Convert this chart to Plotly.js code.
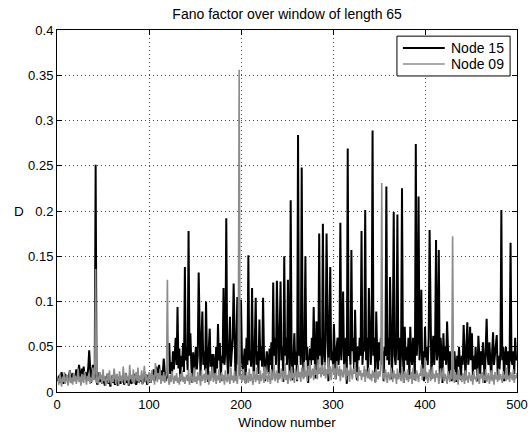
<!DOCTYPE html>
<html>
<head>
<meta charset="utf-8">
<script src="https://cdn.plot.ly/plotly-3.0.1.min.js"></script>
<style>html,body{margin:0;padding:0;background:#fff;}#chart{width:532px;height:432px;}</style>
</head>
<body>
<div id="chart"></div>
<script>
const chartTitle = "Fano factor over window of length 65";
const xLabel = "Window number";
const yLabel = "D";
const seriesNames = ["Node 15", "Node 09"];
const seriesColors = ["#000000", "#8c8c8c"];
const seriesWidths = [2, 1.6];
const xTicks = [0, 100, 200, 300, 400, 500];
const yTicks = [0, 0.05, 0.1, 0.15, 0.2, 0.25, 0.3, 0.35, 0.4];

const node15 = [
.012,.018,.010,.015,.022,.014,.009,.016,.020,.013,
.017,.011,.019,.024,.015,.010,.021,.016,.012,.018,
.025,.014,.020,.030,.017,.012,.026,.019,.028,.015,
.022,.013,.018,.027,.046,.016,.010,.020,.030,.014,
.019,.251,.012,.008,.016,.022,.011,.018,.009,.015,
.013,.007,.017,.011,.020,.009,.014,.006,.012,.018,
.010,.015,.008,.013,.019,.007,.012,.016,.009,.014,
.011,.017,.008,.013,.021,.010,.015,.007,.018,.012,
.009,.016,.011,.020,.014,.008,.013,.019,.010,.015,
.012,.018,.009,.014,.022,.011,.016,.008,.019,.013,
.017,.010,.021,.014,.025,.012,.019,.028,.016,.023,
.030,.016,.024,.013,.020,.037,.018,.012,.022,.015,
.028,.054,.020,.033,.018,.045,.025,.038,.060,.030,
.094,.026,.048,.012,.040,.028,.054,.022,.138,.035,
.050,.024,.178,.040,.065,.030,.010,.044,.018,.036,
.050,.025,.040,.132,.033,.014,.055,.089,.030,.045,
.024,.100,.038,.011,.048,.070,.028,.042,.018,.042,
.030,.015,.050,.026,.075,.035,.054,.012,.040,.032,
.115,.030,.045,.192,.038,.016,.050,.083,.028,.040,
.060,.120,.035,.013,.050,.105,.030,.040,.018,.102,
.040,.025,.035,.048,.010,.060,.030,.151,.035,.045,
.028,.115,.040,.015,.055,.104,.030,.045,.020,.080,
.035,.050,.028,.104,.040,.012,.030,.045,.037,.020,
.048,.030,.055,.014,.121,.040,.060,.030,.123,.045,
.018,.060,.122,.035,.050,.011,.150,.040,.060,.030,
.124,.045,.020,.212,.040,.013,.050,.065,.030,.045,
.012,.284,.040,.060,.030,.248,.045,.016,.060,.150,
.035,.050,.010,.040,.048,.030,.060,.035,.094,.040,
.015,.078,.045,.030,.175,.040,.060,.020,.186,.045,
.030,.055,.175,.040,.012,.060,.138,.035,.045,.030,
.075,.040,.014,.050,.060,.030,.045,.187,.035,.060,
.111,.030,.045,.060,.009,.269,.040,.050,.030,.157,
.045,.060,.020,.091,.040,.013,.050,.035,.060,.040,
.178,.030,.050,.045,.201,.035,.060,.016,.115,.045,
.030,.050,.289,.040,.060,.011,.089,.045,.025,.055,
.035,.060,.030,.045,.012,.050,.040,.227,.035,.060,
.030,.127,.045,.014,.060,.199,.040,.030,.055,.196,
.035,.060,.018,.045,.225,.040,.010,.072,.035,.050,
.030,.060,.015,.072,.040,.030,.060,.045,.013,.274,
.040,.060,.216,.035,.050,.113,.020,.045,.012,.072,
.035,.050,.030,.060,.179,.040,.014,.045,.062,.030,
.050,.168,.035,.045,.157,.018,.060,.040,.010,.065,
.035,.050,.030,.078,.040,.015,.045,.030,.012,.035,
.025,.045,.030,.011,.040,.028,.050,.030,.013,.040,
.030,.074,.035,.016,.050,.077,.030,.040,.072,.035,
.065,.018,.040,.025,.050,.035,.012,.062,.040,.020,
.045,.030,.055,.035,.010,.050,.081,.040,.030,.055,
.035,.014,.045,.066,.030,.040,.050,.063,.018,.040,
.025,.045,.201,.035,.050,.012,.040,.050,.030,.045,
.015,.040,.165,.035,.030,.045,.020,.060,.035,.040
];

const node09 = [
.015,.008,.020,.012,.006,.017,.011,.022,.009,.014,
.019,.007,.013,.024,.010,.016,.008,.021,.012,.018,
.009,.015,.026,.011,.017,.007,.020,.013,.010,.023,
.014,.008,.018,.012,.021,.009,.016,.011,.027,.013,
.020,.136,.010,.017,.008,.022,.014,.019,.009,.025,
.012,.018,.007,.015,.021,.010,.024,.013,.008,.019,
.011,.026,.014,.009,.020,.016,.007,.023,.012,.018,
.010,.028,.015,.009,.021,.013,.017,.008,.030,.014,
.019,.011,.025,.009,.016,.022,.012,.027,.010,.018,
.013,.024,.008,.017,.029,.011,.020,.014,.009,.022,
.016,.010,.024,.013,.019,.008,.032,.015,.011,.021,
.014,.026,.009,.018,.012,.022,.010,.016,.020,.124,
.013,.008,.019,.011,.023,.015,.009,.018,.012,.021,
.010,.016,.008,.020,.013,.024,.011,.017,.009,.015,
.019,.012,.025,.008,.016,.021,.010,.014,.027,.011,
.017,.009,.022,.013,.018,.007,.024,.012,.016,.020,
.010,.026,.014,.019,.008,.023,.012,.017,.028,.011,
.015,.021,.009,.018,.013,.025,.010,.016,.022,.012,
.019,.008,.024,.014,.011,.020,.016,.009,.027,.013,
.018,.010,.023,.012,.017,.009,.021,.356,.014,.019,
.011,.025,.013,.018,.009,.022,.015,.010,.026,.012,
.020,.014,.008,.023,.016,.011,.027,.013,.019,.009,
.024,.012,.017,.021,.010,.028,.014,.018,.011,.022,
.015,.009,.025,.013,.019,.030,.012,.016,.024,.010,
.021,.014,.018,.026,.011,.023,.015,.032,.013,.019,
.009,.024,.017,.012,.028,.015,.021,.010,.026,.018,
.013,.030,.016,.022,.011,.027,.019,.014,.033,.017,
.024,.012,.029,.018,.035,.015,.021,.026,.013,.031,
.019,.024,.014,.036,.020,.027,.016,.030,.022,.018,
.033,.015,.025,.020,.038,.017,.028,.013,.024,.031,
.019,.026,.014,.034,.022,.018,.029,.012,.025,.020,
.016,.031,.021,.013,.027,.018,.024,.011,.030,.019,
.014,.026,.020,.033,.016,.022,.012,.028,.018,.024,
.013,.021,.017,.029,.011,.025,.019,.015,.027,.014,
.020,.012,.024,.016,.022,.010,.026,.018,.014,.023,
.017,.028,.231,.015,.021,.012,.025,.018,.010,.022,
.016,.013,.027,.019,.011,.024,.015,.020,.009,.026,
.014,.021,.017,.012,.028,.016,.010,.023,.018,.013,
.025,.011,.019,.015,.022,.009,.027,.014,.020,.012,
.024,.016,.011,.021,.018,.030,.013,.026,.017,.038,
.014,.022,.010,.019,.025,.012,.017,.028,.015,.020,
.011,.024,.016,.021,.009,.018,.026,.013,.019,.027,
.012,.020,.015,.009,.023,.017,.011,.024,.014,.172,
.016,.010,.022,.013,.019,.008,.025,.014,.018,.011,
.021,.015,.009,.024,.013,.018,.010,.022,.016,.012,
.019,.008,.023,.014,.017,.011,.026,.013,.009,.020,
.015,.022,.010,.018,.013,.025,.011,.016,.021,.009,
.017,.024,.012,.019,.008,.022,.014,.018,.011,.026,
.013,.020,.016,.010,.023,.015,.019,.012,.027,.014,
.018,.011,.022,.016,.013,.025,.010,.019,.015,.021
];

const seriesValues = [node15, node09];
const windows = node15.map((_, i) => i + 1);
const font = "Liberation Sans, Arial, Helvetica, sans-serif";

const traces = seriesValues.map((vals, k) => ({
  x: windows, y: vals, type: "scatter", mode: "lines", name: seriesNames[k],
  line: {color: seriesColors[k], width: seriesWidths[k]}
}));

const axisCommon = {
  showline: true, linecolor: "#000", linewidth: 1, mirror: "ticks",
  ticks: "inside", ticklen: 5, tickcolor: "#000",
  showgrid: true, gridcolor: "#444", griddash: "1px,3px", gridwidth: 1,
  zeroline: false, tickfont: {family: font, size: 13, color: "#000"}
};

// legend box (drawn manually to match the reference spacing)
const legendBox = {x0: 0.739, x1: 0.985, y0: 0.873, y1: 0.983};
const legendRows = [0.950, 0.906];
const shapes = [
  {type: "rect", xref: "paper", yref: "paper", layer: "above",
   x0: legendBox.x0, x1: legendBox.x1, y0: legendBox.y0, y1: legendBox.y1,
   fillcolor: "#fff", line: {color: "#000", width: 1}}
];
const annotations = [
  {text: yLabel, xref: "paper", yref: "paper", x: -0.067, y: 0.5, xanchor: "right",
   yanchor: "middle", showarrow: false, font: {family: font, size: 13.5, color: "#000"}}
];
seriesNames.forEach((nm, k) => {
  shapes.push({type: "line", xref: "paper", yref: "paper", layer: "above",
    x0: 0.752, x1: 0.843, y0: legendRows[k], y1: legendRows[k],
    line: {color: seriesColors[k], width: seriesWidths[k]}});
  annotations.push({text: nm, xref: "paper", yref: "paper", x: 0.852, y: legendRows[k],
    xanchor: "left", yanchor: "middle", showarrow: false,
    font: {family: font, size: 14, color: "#000"}});
});

const layout = {
  width: 532, height: 432,
  margin: {l: 57, r: 15, t: 30, b: 40},
  paper_bgcolor: "#fff", plot_bgcolor: "#fff",
  font: {family: font, color: "#000"},
  title: {text: chartTitle, font: {family: font, size: 14, color: "#000"},
          x: 0.5397, xanchor: "center", y: 0.968, yanchor: "middle"},
  xaxis: Object.assign({}, axisCommon, {range: [0, 500], tickvals: xTicks,
          title: {text: xLabel, font: {family: font, size: 13.5}, standoff: 6}}),
  yaxis: Object.assign({}, axisCommon, {range: [0, 0.4], tickvals: yTicks,
          ticktext: yTicks.map(v => String(v))}),
  showlegend: false,
  shapes: shapes,
  annotations: annotations
};

Plotly.newPlot("chart", traces, layout, {displayModeBar: false, staticPlot: true});
</script>
</body>
</html>
